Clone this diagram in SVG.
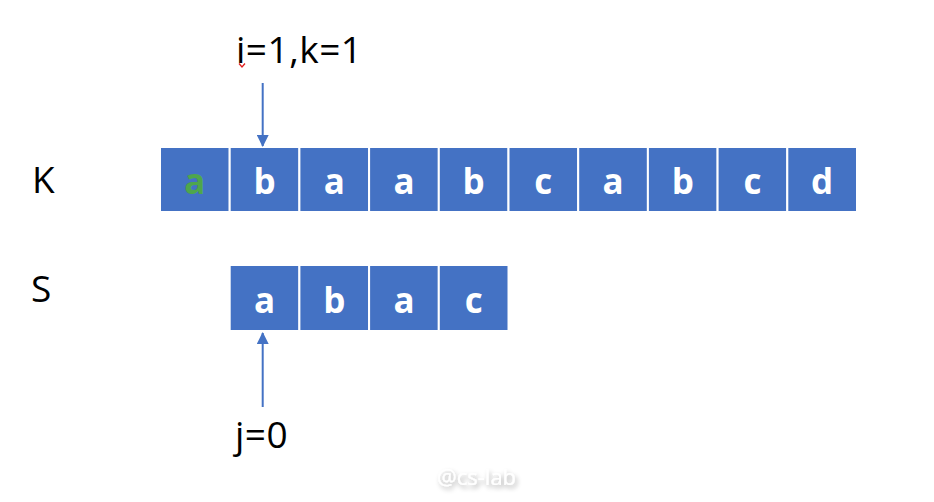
<svg xmlns="http://www.w3.org/2000/svg" width="934" height="502" viewBox="0 0 934 502">
<style>
.cell{fill:#4472C4;stroke:#FFFFFF;stroke-width:2}
.ct{font-family:"Open Sans","Noto Sans",sans-serif;font-weight:bold;font-size:35px;fill:#FFFFFF;text-anchor:middle}
.lbl{font-family:"Open Sans","Noto Sans",sans-serif;font-size:37px;fill:#000000}
.conn{stroke:#4472C4;stroke-width:2;fill:none}
</style>
<defs>
<marker id="ah" viewBox="0 0 12 12" refX="11" refY="6" markerWidth="12" markerHeight="12" markerUnits="userSpaceOnUse" orient="auto">
<path d="M0,0 L12,6 L0,12 Z" fill="#4472C4"/>
</marker>
<filter id="sh" x="-20%" y="-60%" width="140%" height="220%">
<feGaussianBlur in="SourceAlpha" stdDeviation="2.5" result="b"/>
<feOffset in="b" dx="2" dy="3" result="o"/>
<feComponentTransfer in="o" result="s"><feFuncA type="linear" slope="0.35"/></feComponentTransfer>
<feMerge><feMergeNode in="s"/><feMergeNode in="SourceGraphic"/></feMerge>
</filter>
</defs>
<rect width="934" height="502" fill="#FFFFFF"/>
<text class="lbl" x="32" y="193">K</text>
<text class="lbl" x="31" y="302">S</text>
<g id="K-row">
<g id="k0"><rect class="cell" x="160" y="147" width="69.7" height="65"/><text class="ct" x="194.85" y="194" style="fill:#4EA64C">a</text></g>
<g id="k1"><rect class="cell" x="229.7" y="147" width="69.7" height="65"/><text class="ct" x="264.55" y="194">b</text></g>
<g id="k2"><rect class="cell" x="299.4" y="147" width="69.7" height="65"/><text class="ct" x="334.25" y="194">a</text></g>
<g id="k3"><rect class="cell" x="369.1" y="147" width="69.7" height="65"/><text class="ct" x="403.95" y="194">a</text></g>
<g id="k4"><rect class="cell" x="438.8" y="147" width="69.7" height="65"/><text class="ct" x="473.65" y="194">b</text></g>
<g id="k5"><rect class="cell" x="508.5" y="147" width="69.7" height="65"/><text class="ct" x="543.35" y="194">c</text></g>
<g id="k6"><rect class="cell" x="578.2" y="147" width="69.7" height="65"/><text class="ct" x="613.05" y="194">a</text></g>
<g id="k7"><rect class="cell" x="647.9" y="147" width="69.7" height="65"/><text class="ct" x="682.75" y="194">b</text></g>
<g id="k8"><rect class="cell" x="717.6" y="147" width="69.7" height="65"/><text class="ct" x="752.45" y="194">c</text></g>
<g id="k9"><rect class="cell" x="787.3" y="147" width="69.7" height="65"/><text class="ct" x="822.15" y="194">d</text></g>
</g>
<g id="S-row">
<g id="s0"><rect class="cell" x="229.7" y="265" width="69.7" height="66"/><text class="ct" x="264.55" y="313">a</text></g>
<g id="s1"><rect class="cell" x="299.4" y="265" width="69.7" height="66"/><text class="ct" x="334.25" y="313">b</text></g>
<g id="s2"><rect class="cell" x="369.1" y="265" width="69.7" height="66"/><text class="ct" x="403.95" y="313">a</text></g>
<g id="s3"><rect class="cell" x="438.8" y="265" width="69.7" height="66"/><text class="ct" x="473.65" y="313">c</text></g>
</g>
<g id="label-ik">
<text class="lbl" x="236" y="63" letter-spacing="0.5">i=1,k=1</text>
<polyline points="239,63.5 242,67 245,63.5" fill="none" stroke="#E02020" stroke-width="1.3"/>
</g>
<g id="label-j">
<text class="lbl" x="235" y="448" letter-spacing="0.5">j=0</text>
</g>
<g id="connectors">
<line class="conn" x1="262.7" y1="83" x2="262.7" y2="146" marker-end="url(#ah)"/>
<line class="conn" x1="262.7" y1="407" x2="262.7" y2="333" marker-end="url(#ah)"/>
</g>
<g id="watermark">
<text x="437" y="485" fill="#FFFFFF" filter="url(#sh)" font-family="'Open Sans','Noto Sans',sans-serif" font-size="22">@cs-lab</text>
</g>
</svg>
